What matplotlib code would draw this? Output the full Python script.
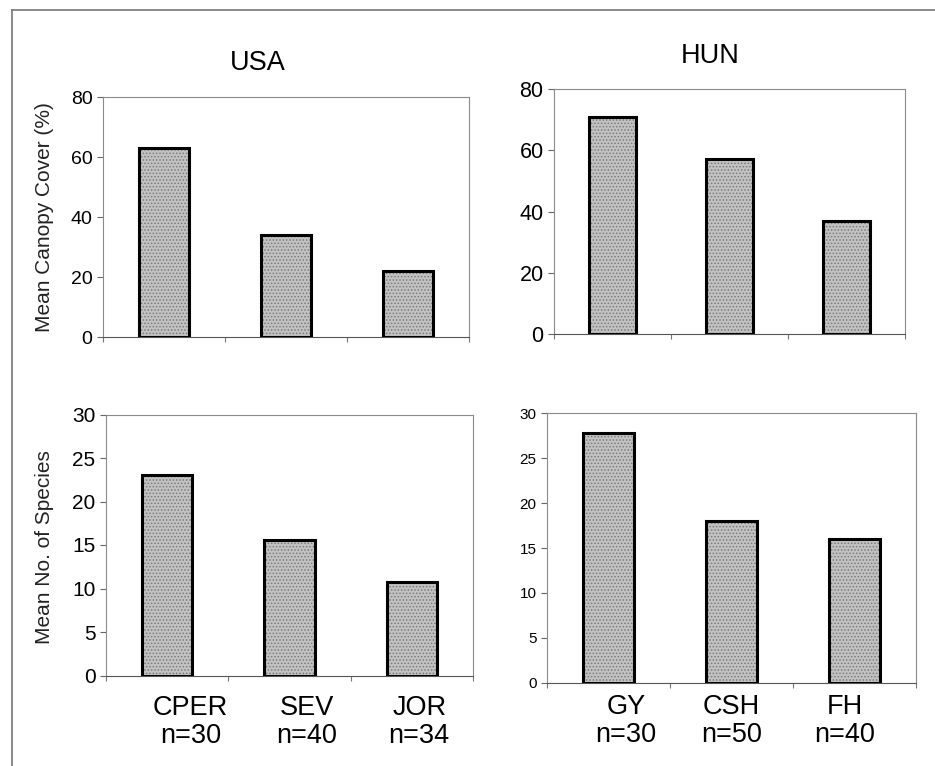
import matplotlib
matplotlib.use("Agg")
import matplotlib.pyplot as plt
from matplotlib.lines import Line2D

plt.rcParams['font.family'] = ['Liberation Sans', 'DejaVu Sans']
plt.rcParams['hatch.linewidth'] = 0.7

# ---- data ----
usa_sites = ["CPER", "SEV", "JOR"]
usa_n = ["n=30", "n=40", "n=34"]
hun_sites = ["GY", "CSH", "FH"]
hun_n = ["n=30", "n=50", "n=40"]
usa_canopy = [63, 34, 22]
hun_canopy = [71, 57, 37]
usa_species = [23.0, 15.6, 10.7]
hun_species = [27.8, 18.0, 16.0]
canopy_ticks = [0, 20, 40, 60, 80]
species_ticks = [0, 5, 10, 15, 20, 25, 30]

W, H = 935, 766
fig = plt.figure(figsize=(W / 100, H / 100), dpi=100)

def px_axes(l, r, t, b):
    return [l / W, 1 - b / H, (r - l) / W, (b - t) / H]

def draw_panel(rect, vals, ymax, yticks, tick_fs):
    ax = fig.add_axes(px_axes(*rect))
    x = list(range(len(vals)))
    ax.bar(x, vals, width=0.41, color='#c2c2c2', edgecolor='#7a7a7a',
           linewidth=0, hatch='.....', zorder=2)
    ax.bar(x, vals, width=0.41, fill=False, edgecolor='black',
           linewidth=2.2, zorder=3)
    ax.set_xlim(-0.5, len(vals) - 0.5)
    ax.set_ylim(0, ymax)
    ax.set_yticks(yticks)
    ax.set_xticks([i - 0.5 for i in range(len(vals) + 1)])
    ax.set_xticklabels([])
    for s in ax.spines.values():
        s.set_color('#8a8a8a')
        s.set_linewidth(0.8)
    ax.spines['bottom'].set_color('#555555')
    ax.tick_params(axis='y', direction='out', length=4.5, width=0.8,
                   color='#666666', labelsize=tick_fs, pad=3)
    ax.tick_params(axis='x', direction='out', length=3.5, width=0.8,
                   color='#777777')
    return ax

ax_tl = draw_panel((103, 469, 97, 337), usa_canopy, 80, canopy_ticks, 14)
ax_tr = draw_panel((554, 905, 89, 334), hun_canopy, 80, canopy_ticks, 15.5)
ax_bl = draw_panel((106, 473, 414.5, 675.5), usa_species, 30, species_ticks, 15)
ax_br = draw_panel((547, 916, 413.3, 682.7), hun_species, 30, species_ticks, 11)

# category labels under bottom panels
usa_offsets = [0.19, 0.14, 0.06]
hun_offsets = [0.14, 0.0, -0.08]
for ax, sites, ns, offs, dy in [(ax_bl, usa_sites, usa_n, usa_offsets, -14),
                                (ax_br, hun_sites, hun_n, hun_offsets, -8)]:
    for i, (s, n) in enumerate(zip(sites, ns)):
        ax.annotate(s + "\n" + n, xy=(i + offs[i], 0), xycoords='data',
                    xytext=(0, dy), textcoords='offset points',
                    ha='center', va='top', fontsize=19.5, linespacing=1.1)

# titles
fig.text(258 / W, 1 - 70 / H, "USA", ha='center', va='baseline', fontsize=19.5)
fig.text(710 / W, 1 - 63 / H, "HUN", ha='center', va='baseline', fontsize=19.5)

# y labels
fig.text(45 / W, 1 - 217 / H, "Mean Canopy Cover (%)", rotation=90,
         ha='center', va='center', fontsize=15, color='#222222')
fig.text(45 / W, 1 - 547 / H, "Mean No. of Species", rotation=90,
         ha='center', va='center', fontsize=15, color='#222222')

# outer frame (top and left edges)
fig.add_artist(Line2D([12 / W, 1.0], [1 - 10 / H, 1 - 10 / H],
                      transform=fig.transFigure, color='#777777', linewidth=1.2))
fig.add_artist(Line2D([12 / W, 12 / W], [1 - 10 / H, 0.0],
                      transform=fig.transFigure, color='#777777', linewidth=1.2))

fig.savefig("out.png", dpi=100, facecolor='white')
